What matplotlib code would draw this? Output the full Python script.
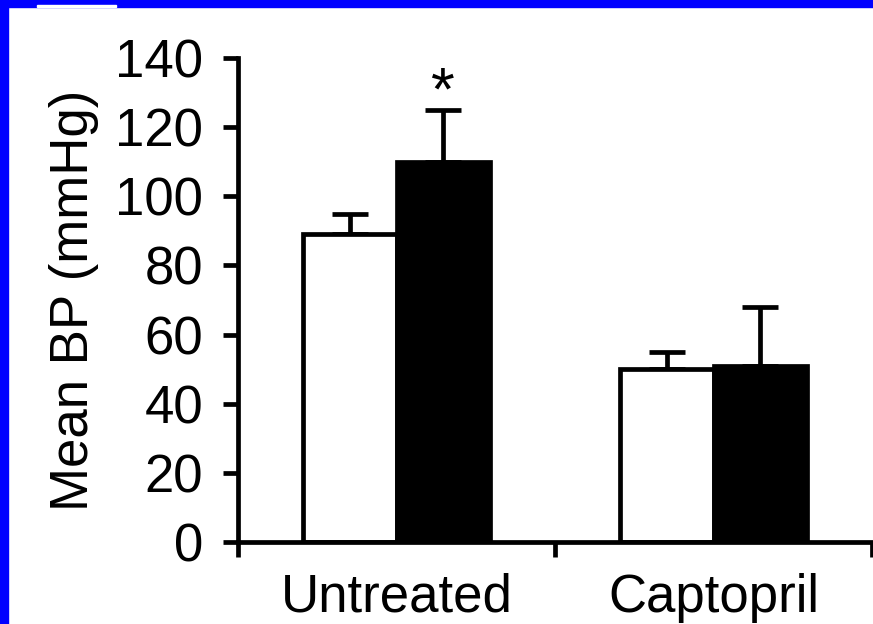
import matplotlib.pyplot as plt
from matplotlib.patches import Rectangle

# mean blood pressure, control (open) vs treated (filled), +SEM
groups = ['Untreated', 'Captopril']
control_mean = [89, 50]
control_sem = [6, 5]
treated_mean = [110, 51]
treated_sem = [15, 17]
yticks = [0, 20, 40, 60, 80, 100, 120, 140]

plt.rcParams['font.family'] = ['Liberation Sans', 'DejaVu Sans']

fig = plt.figure(figsize=(8.73, 6.24), dpi=100)
ax = fig.add_axes([238 / 873, 82 / 624, 634 / 873, 484 / 624])

w = 0.295
lw = 3.4
xc = [i + 0.5 - w / 2 for i in range(len(groups))]
xt = [i + 0.5 + w / 2 for i in range(len(groups))]

ax.bar(xc, control_mean, width=w, color='white', edgecolor='black', linewidth=lw, zorder=2)
ax.bar(xt, treated_mean, width=w, color='black', edgecolor='black', linewidth=lw, zorder=2)
ax.errorbar(xc, control_mean, yerr=[[0] * len(groups), control_sem], fmt='none',
            ecolor='black', elinewidth=lw, capsize=13, capthick=lw, zorder=1)
ax.errorbar(xt, treated_mean, yerr=[[0] * len(groups), treated_sem], fmt='none',
            ecolor='black', elinewidth=lw, capsize=13, capthick=lw, zorder=1)

# significance mark over untreated/treated
ax.annotate('*', (xt[0], treated_mean[0] + treated_sem[0]), xytext=(0, -9),
            textcoords='offset points', ha='center', va='bottom', fontsize=44)

ax.set_xlim(0, 2)
ax.set_ylim(0, 140)
ax.set_yticks(yticks)
ax.set_xticks([0, 1, 2])
ax.set_xticklabels(['', '', ''])
ax.set_xticks([0.5, 1.5], minor=True)
ax.set_xticklabels(groups, minor=True)
ax.tick_params(axis='both', which='major', direction='out', length=11, width=lw,
               labelsize=38, pad=14)
ax.tick_params(axis='x', which='minor', length=0, labelsize=38, pad=22)
ax.set_ylabel('Mean BP (mmHg)', fontsize=38, labelpad=12)

for s in ['top', 'right']:
    ax.spines[s].set_visible(False)
for s in ['left', 'bottom']:
    ax.spines[s].set_linewidth(lw)
ax.spines['left'].set_bounds(0, 140)

# blue frame along the top and left edge
fig.patches.append(Rectangle((0, 1 - 7 / 624), 1, 7 / 624, transform=fig.transFigure,
                             color='#0000ff', zorder=0))
fig.patches.append(Rectangle((0, 0), 8 / 873, 1, transform=fig.transFigure,
                             color='#0000ff', zorder=0))
fig.patches.append(Rectangle((37 / 873, 1 - 7 / 624), 79 / 873, 2 / 624,
                             transform=fig.transFigure, color='white', zorder=1))

fig.savefig('out.png', dpi=100)
